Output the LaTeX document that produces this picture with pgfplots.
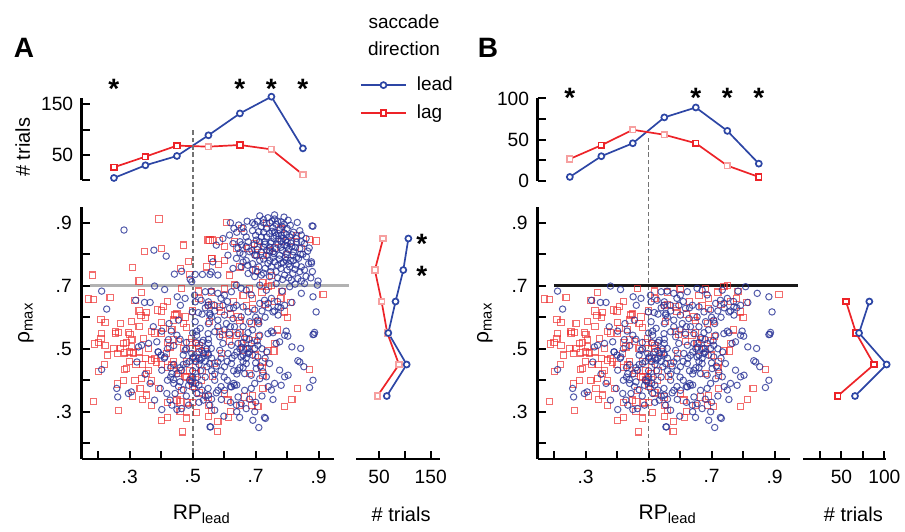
\documentclass[border=0pt]{standalone}
\usepackage{fontspec}
\setmainfont{Liberation Sans}
\usepackage{pgfplots}
\usepackage{pgfplotstable}
\pgfplotsset{compat=1.18}

\definecolor{leadblue}{RGB}{45,70,165}
\definecolor{lagred}{RGB}{237,35,40}
\definecolor{lagpale}{RGB}{246,160,160}
\definecolor{dotblue}{RGB}{40,50,150}
\definecolor{dotred}{RGB}{238,45,45}

% single trials: RP_lead vs rho_max, lead saccades
\pgfplotstableread[row sep=\\]{
x y\\
0.282 0.877\\ 0.377 0.813\\ 0.416 0.794\\ 0.442 0.737\\ 0.465 0.746\\ 0.508 0.736\\
0.531 0.736\\ 0.555 0.736\\ 0.379 0.699\\ 0.411 0.688\\ 0.211 0.683\\ 0.319 0.654\\
0.347 0.647\\ 0.365 0.647\\ 0.451 0.665\\ 0.476 0.660\\ 0.506 0.670\\ 0.508 0.649\\
0.527 0.654\\ 0.540 0.681\\ 0.550 0.649\\ 0.227 0.626\\ 0.461 0.638\\ 0.499 0.617\\
0.518 0.615\\ 0.548 0.638\\ 0.555 0.612\\ 0.375 0.570\\ 0.425 0.580\\ 0.455 0.591\\
0.508 0.586\\ 0.524 0.565\\ 0.550 0.580\\ 0.432 0.556\\ 0.513 0.556\\ 0.402 0.556\\
0.497 0.713\\ 0.492 0.721\\
0.713 0.922\\ 0.739 0.916\\ 0.760 0.912\\ 0.781 0.903\\ 0.803 0.908\\ 0.832 0.901\\
0.879 0.890\\ 0.673 0.905\\ 0.646 0.893\\ 0.631 0.882\\ 0.663 0.871\\ 0.697 0.895\\
0.718 0.887\\ 0.734 0.882\\ 0.755 0.884\\ 0.776 0.877\\ 0.800 0.882\\ 0.744 0.866\\
0.765 0.859\\ 0.787 0.850\\ 0.808 0.855\\ 0.829 0.850\\ 0.845 0.861\\ 0.718 0.855\\
0.728 0.840\\ 0.750 0.840\\ 0.771 0.831\\ 0.792 0.829\\ 0.815 0.824\\ 0.840 0.818\\
0.855 0.834\\ 0.670 0.855\\ 0.676 0.840\\ 0.670 0.824\\ 0.681 0.808\\ 0.697 0.797\\
0.718 0.808\\ 0.734 0.797\\ 0.755 0.808\\ 0.776 0.797\\ 0.797 0.803\\ 0.818 0.797\\
0.836 0.787\\ 0.861 0.792\\ 0.877 0.776\\ 0.797 0.781\\ 0.781 0.771\\ 0.760 0.776\\
0.739 0.771\\ 0.713 0.781\\ 0.808 0.760\\ 0.829 0.766\\ 0.855 0.750\\ 0.818 0.739\\
0.792 0.734\\ 0.813 0.718\\ 0.834 0.723\\ 0.855 0.707\\ 0.896 0.702\\ 0.882 0.665\\
0.892 0.617\\ 0.845 0.676\\ 0.815 0.647\\ 0.792 0.638\\ 0.771 0.633\\ 0.755 0.617\\
0.771 0.607\\ 0.739 0.644\\ 0.728 0.654\\ 0.713 0.644\\ 0.686 0.671\\ 0.670 0.686\\
0.654 0.692\\ 0.639 0.702\\ 0.623 0.681\\ 0.601 0.670\\ 0.580 0.676\\ 0.559 0.683\\
0.570 0.638\\ 0.596 0.638\\ 0.617 0.628\\ 0.639 0.638\\ 0.660 0.633\\ 0.601 0.607\\
0.628 0.596\\ 0.654 0.601\\ 0.676 0.617\\ 0.697 0.623\\ 0.707 0.591\\ 0.681 0.586\\
0.580 0.591\\ 0.554 0.607\\ 0.607 0.580\\ 0.633 0.570\\ 0.750 0.556\\ 0.797 0.556\\
0.887 0.552\\ 0.559 0.744\\ 0.580 0.734\\ 0.564 0.776\\ 0.575 0.829\\ 0.596 0.850\\
0.617 0.861\\ 0.628 0.834\\ 0.644 0.819\\ 0.612 0.797\\ 0.639 0.787\\ 0.628 0.755\\
0.654 0.760\\ 0.676 0.739\\ 0.697 0.729\\ 0.718 0.734\\ 0.744 0.729\\ 0.765 0.707\\
0.713 0.702\\ 0.734 0.686\\ 0.784 0.683\\ 0.808 0.697\\ 0.882 0.889\\ 0.898 0.715\\
0.882 0.545\\ 0.877 0.771\\
0.745 0.900\\ 0.765 0.895\\ 0.785 0.888\\ 0.752 0.873\\ 0.772 0.866\\ 0.790 0.868\\
0.735 0.855\\ 0.758 0.850\\ 0.780 0.842\\ 0.800 0.838\\ 0.745 0.822\\ 0.765 0.818\\
0.785 0.812\\ 0.805 0.815\\ 0.820 0.808\\ 0.775 0.785\\ 0.755 0.790\\ 0.795 0.790\\
0.745 0.810\\ 0.725 0.823\\ 0.705 0.815\\ 0.695 0.830\\ 0.700 0.860\\ 0.690 0.875\\
0.820 0.870\\ 0.840 0.875\\ 0.860 0.850\\ 0.870 0.820\\ 0.850 0.800\\ 0.820 0.780\\
0.840 0.745\\ 0.860 0.730\\ 0.800 0.750\\ 0.780 0.755\\ 0.765 0.745\\ 0.750 0.760\\
0.730 0.755\\ 0.710 0.760\\ 0.690 0.770\\ 0.670 0.780\\ 0.660 0.800\\ 0.650 0.840\\
0.640 0.870\\ 0.620 0.900\\
0.705 0.905\\ 0.725 0.900\\ 0.752 0.905\\ 0.770 0.905\\ 0.790 0.895\\ 0.810 0.892\\
0.725 0.870\\ 0.710 0.872\\ 0.760 0.870\\ 0.782 0.860\\ 0.797 0.862\\ 0.815 0.862\\
0.830 0.838\\ 0.812 0.835\\ 0.795 0.845\\ 0.772 0.848\\ 0.748 0.835\\ 0.730 0.832\\
0.712 0.840\\ 0.702 0.845\\ 0.735 0.812\\ 0.758 0.802\\ 0.780 0.822\\ 0.800 0.826\\
0.826 0.822\\ 0.845 0.840\\ 0.865 0.810\\ 0.842 0.800\\ 0.830 0.790\\ 0.810 0.780\\
0.788 0.775\\ 0.770 0.765\\ 0.745 0.780\\ 0.725 0.785\\ 0.703 0.795\\ 0.688 0.812\\
0.805 0.770\\ 0.825 0.752\\ 0.845 0.760\\ 0.868 0.770\\ 0.880 0.745\\ 0.875 0.725\\
0.845 0.715\\ 0.825 0.705\\ 0.805 0.725\\ 0.785 0.720\\ 0.770 0.725\\ 0.748 0.745\\
0.725 0.740\\ 0.705 0.745\\ 0.690 0.750\\ 0.675 0.765\\ 0.660 0.775\\ 0.650 0.805\\
0.655 0.830\\ 0.660 0.885\\ 0.690 0.900\\ 0.725 0.910\\ 0.760 0.925\\ 0.790 0.918\\
0.211 0.434\\ 0.259 0.374\\ 0.262 0.347\\ 0.296 0.358\\ 0.305 0.363\\ 0.349 0.419\\
0.365 0.390\\ 0.379 0.337\\ 0.397 0.374\\ 0.402 0.307\\ 0.428 0.337\\ 0.434 0.321\\
0.450 0.307\\ 0.465 0.310\\ 0.487 0.321\\ 0.418 0.358\\ 0.444 0.358\\ 0.328 0.506\\
0.323 0.458\\ 0.338 0.511\\ 0.360 0.517\\ 0.391 0.490\\ 0.412 0.474\\ 0.402 0.432\\
0.434 0.421\\ 0.465 0.432\\ 0.481 0.453\\ 0.502 0.474\\ 0.524 0.464\\ 0.545 0.443\\
0.529 0.369\\ 0.550 0.353\\ 0.555 0.252\\ 0.534 0.337\\ 0.513 0.358\\ 0.487 0.384\\
0.460 0.395\\ 0.439 0.402\\ 0.423 0.529\\ 0.450 0.543\\ 0.476 0.495\\ 0.497 0.485\\
0.529 0.495\\ 0.550 0.517\\ 0.534 0.527\\ 0.513 0.543\\ 0.386 0.522\\
0.549 0.548\\ 0.570 0.554\\ 0.586 0.538\\ 0.617 0.546\\ 0.644 0.548\\ 0.676 0.551\\
0.713 0.543\\ 0.739 0.548\\ 0.755 0.551\\ 0.792 0.543\\ 0.802 0.540\\ 0.885 0.546\\
0.765 0.517\\ 0.776 0.522\\ 0.815 0.506\\ 0.843 0.501\\ 0.834 0.462\\ 0.840 0.458\\
0.853 0.443\\ 0.792 0.411\\ 0.803 0.416\\ 0.760 0.390\\ 0.781 0.384\\ 0.755 0.339\\
0.882 0.400\\ 0.871 0.377\\ 0.728 0.282\\ 0.731 0.279\\ 0.710 0.250\\ 0.697 0.300\\
0.691 0.273\\ 0.649 0.282\\ 0.599 0.286\\ 0.557 0.252\\ 0.554 0.321\\ 0.570 0.305\\
0.591 0.339\\ 0.639 0.321\\ 0.654 0.326\\ 0.644 0.347\\ 0.601 0.368\\ 0.623 0.379\\
0.633 0.384\\ 0.665 0.368\\ 0.686 0.374\\ 0.697 0.390\\ 0.713 0.405\\ 0.734 0.411\\
0.570 0.400\\ 0.549 0.374\\ 0.580 0.368\\ 0.554 0.453\\ 0.580 0.458\\ 0.601 0.443\\
0.623 0.453\\ 0.644 0.432\\ 0.665 0.421\\ 0.686 0.416\\ 0.702 0.437\\ 0.723 0.427\\
0.744 0.453\\ 0.707 0.474\\ 0.676 0.485\\ 0.654 0.474\\ 0.633 0.479\\ 0.612 0.485\\
0.586 0.495\\ 0.559 0.501\\ 0.549 0.485\\ 0.686 0.517\\ 0.707 0.511\\ 0.644 0.517\\
0.623 0.511\\ 0.596 0.517\\ 0.670 0.453\\ 0.697 0.501\\ 0.750 0.369\\ 0.776 0.432\\
0.490 0.400\\ 0.500 0.410\\ 0.510 0.390\\ 0.500 0.430\\ 0.520 0.450\\ 0.530 0.470\\
0.540 0.460\\ 0.550 0.480\\ 0.560 0.470\\ 0.520 0.490\\ 0.500 0.470\\ 0.490 0.460\\
0.510 0.520\\ 0.530 0.520\\ 0.550 0.530\\ 0.660 0.480\\ 0.670 0.500\\ 0.660 0.520\\
0.650 0.500\\ 0.680 0.490\\ 0.670 0.470\\ 0.660 0.460\\ 0.650 0.440\\ 0.640 0.420\\
0.630 0.390\\ 0.620 0.380\\ 0.640 0.385\\ 0.600 0.410\\ 0.590 0.430\\ 0.570 0.420\\
0.450 0.420\\ 0.460 0.440\\ 0.430 0.410\\ 0.420 0.400\\ 0.440 0.450\\ 0.410 0.470\\
0.400 0.480\\ 0.390 0.490\\ 0.420 0.500\\ 0.470 0.480\\ 0.480 0.500\\ 0.700 0.600\\
0.720 0.620\\ 0.740 0.630\\ 0.760 0.620\\ 0.780 0.630\\ 0.770 0.650\\ 0.750 0.660\\
0.730 0.600\\ 0.710 0.580\\ 0.690 0.560\\ 0.660 0.570\\ 0.620 0.570\\ 0.600 0.560\\
0.580 0.570\\ 0.630 0.630\\ 0.610 0.650\\ 0.590 0.660\\ 0.570 0.620\\ 0.560 0.600\\
0.540 0.630\\ 0.530 0.610\\
0.510 0.460\\ 0.520 0.470\\ 0.535 0.485\\ 0.545 0.500\\ 0.525 0.430\\ 0.515 0.410\\
0.495 0.395\\ 0.505 0.375\\ 0.520 0.385\\ 0.540 0.410\\ 0.560 0.430\\ 0.575 0.445\\
0.590 0.470\\ 0.610 0.460\\ 0.625 0.470\\ 0.640 0.490\\ 0.655 0.505\\ 0.665 0.535\\
0.675 0.500\\ 0.690 0.480\\ 0.700 0.455\\ 0.715 0.445\\ 0.730 0.470\\ 0.735 0.490\\
0.720 0.500\\ 0.705 0.525\\ 0.680 0.530\\ 0.660 0.440\\ 0.630 0.430\\ 0.610 0.400\\
0.590 0.380\\ 0.575 0.360\\ 0.560 0.340\\ 0.540 0.350\\ 0.520 0.330\\ 0.480 0.350\\
0.470 0.370\\ 0.455 0.380\\ 0.440 0.390\\ 0.430 0.440\\ 0.470 0.450\\ 0.480 0.520\\
0.460 0.530\\ 0.440 0.510\\ 0.500 0.550\\ 0.620 0.330\\ 0.640 0.300\\ 0.670 0.310\\
0.680 0.340\\ 0.700 0.330\\ 0.720 0.350\\ 0.740 0.380\\
}\leadpts

% single trials, lag saccades
\pgfplotstableread[row sep=\\]{
x y\\
0.393 0.912\\ 0.471 0.829\\ 0.346 0.808\\ 0.400 0.818\\ 0.309 0.759\\ 0.182 0.734\\
0.330 0.715\\ 0.487 0.778\\ 0.461 0.755\\ 0.489 0.736\\ 0.555 0.845\\ 0.559 0.787\\
0.338 0.679\\ 0.238 0.662\\ 0.169 0.658\\ 0.185 0.657\\ 0.317 0.654\\ 0.421 0.649\\
0.408 0.635\\ 0.389 0.623\\ 0.354 0.615\\ 0.330 0.620\\ 0.336 0.605\\ 0.209 0.594\\
0.222 0.584\\ 0.305 0.586\\ 0.402 0.584\\ 0.439 0.591\\ 0.444 0.607\\ 0.476 0.601\\
0.481 0.567\\ 0.407 0.565\\ 0.434 0.562\\ 0.254 0.554\\ 0.264 0.552\\ 0.211 0.549\\
0.296 0.552\\ 0.370 0.554\\ 0.465 0.691\\ 0.518 0.683\\
0.607 0.901\\ 0.656 0.882\\ 0.734 0.898\\ 0.549 0.845\\ 0.564 0.845\\ 0.586 0.842\\
0.601 0.824\\ 0.633 0.840\\ 0.676 0.818\\ 0.707 0.824\\ 0.723 0.797\\ 0.744 0.813\\
0.697 0.834\\ 0.781 0.840\\ 0.813 0.840\\ 0.845 0.818\\ 0.871 0.848\\ 0.892 0.842\\
0.561 0.787\\ 0.582 0.768\\ 0.543 0.760\\ 0.617 0.734\\ 0.750 0.732\\ 0.723 0.711\\
0.739 0.697\\ 0.633 0.702\\ 0.784 0.681\\ 0.914 0.672\\ 0.811 0.647\\ 0.551 0.638\\
0.586 0.633\\ 0.644 0.601\\ 0.691 0.628\\ 0.792 0.617\\ 0.686 0.580\\ 0.707 0.586\\
0.554 0.586\\ 0.586 0.554\\ 0.670 0.638\\
0.188 0.515\\ 0.209 0.533\\ 0.222 0.511\\ 0.254 0.548\\ 0.301 0.546\\ 0.307 0.529\\
0.344 0.533\\ 0.280 0.517\\ 0.262 0.485\\ 0.283 0.487\\ 0.312 0.487\\ 0.201 0.427\\
0.283 0.434\\ 0.291 0.437\\ 0.262 0.388\\ 0.317 0.400\\ 0.338 0.406\\ 0.333 0.374\\
0.370 0.398\\ 0.391 0.374\\ 0.354 0.353\\ 0.264 0.305\\ 0.185 0.332\\ 0.402 0.273\\
0.421 0.282\\ 0.468 0.236\\ 0.460 0.331\\ 0.484 0.328\\ 0.513 0.297\\ 0.550 0.286\\
0.402 0.548\\ 0.428 0.506\\ 0.370 0.464\\ 0.386 0.458\\ 0.418 0.485\\ 0.434 0.448\\
0.455 0.421\\ 0.476 0.411\\ 0.492 0.402\\ 0.508 0.421\\ 0.529 0.400\\ 0.513 0.517\\
0.518 0.501\\ 0.497 0.533\\ 0.455 0.522\\ 0.465 0.368\\ 0.450 0.337\\ 0.354 0.421\\
0.305 0.506\\
0.617 0.522\\ 0.654 0.517\\ 0.660 0.496\\ 0.697 0.527\\ 0.739 0.493\\ 0.758 0.493\\
0.760 0.517\\ 0.723 0.458\\ 0.723 0.416\\ 0.723 0.374\\ 0.665 0.347\\ 0.688 0.321\\
0.707 0.316\\ 0.792 0.316\\ 0.815 0.339\\ 0.832 0.374\\ 0.871 0.434\\ 0.614 0.282\\
0.578 0.238\\ 0.601 0.358\\ 0.612 0.337\\ 0.559 0.305\\ 0.570 0.453\\ 0.591 0.485\\
0.617 0.551\\ 0.596 0.546\\ 0.638 0.543\\ 0.681 0.421\\ 0.564 0.411\\ 0.549 0.347\\
0.500 0.500\\ 0.510 0.470\\ 0.520 0.510\\ 0.490 0.430\\ 0.500 0.390\\ 0.500 0.380\\
0.480 0.410\\ 0.460 0.430\\ 0.440 0.460\\ 0.420 0.520\\ 0.380 0.550\\ 0.360 0.500\\
0.350 0.470\\ 0.320 0.450\\ 0.300 0.490\\ 0.290 0.520\\ 0.270 0.500\\ 0.250 0.500\\
0.230 0.480\\ 0.220 0.450\\ 0.200 0.520\\ 0.270 0.580\\ 0.330 0.570\\ 0.350 0.600\\
0.400 0.620\\ 0.450 0.610\\ 0.470 0.580\\ 0.500 0.620\\ 0.520 0.660\\ 0.560 0.640\\
0.590 0.620\\ 0.630 0.650\\ 0.660 0.670\\ 0.690 0.660\\ 0.720 0.680\\ 0.750 0.700\\
0.780 0.660\\ 0.800 0.600\\ 0.770 0.560\\ 0.710 0.540\\ 0.680 0.500\\ 0.670 0.530\\
0.650 0.550\\
0.480 0.460\\ 0.470 0.500\\ 0.490 0.520\\ 0.510 0.440\\ 0.530 0.430\\ 0.540 0.490\\
0.440 0.530\\ 0.420 0.440\\ 0.400 0.450\\ 0.380 0.470\\ 0.360 0.430\\ 0.340 0.450\\
0.330 0.490\\ 0.300 0.460\\ 0.280 0.400\\ 0.310 0.350\\ 0.340 0.340\\ 0.370 0.320\\
0.420 0.330\\ 0.460 0.300\\ 0.480 0.280\\ 0.500 0.330\\ 0.520 0.360\\ 0.550 0.320\\
0.580 0.270\\ 0.620 0.300\\ 0.650 0.320\\ 0.690 0.350\\ 0.720 0.440\\ 0.700 0.480\\
0.650 0.590\\ 0.620 0.610\\ 0.560 0.680\\ 0.600 0.690\\ 0.680 0.690\\ 0.730 0.640\\
0.760 0.650\\ 0.700 0.750\\ 0.650 0.760\\ 0.600 0.780\\ 0.640 0.820\\ 0.700 0.800\\
0.760 0.820\\ 0.800 0.800\\ 0.830 0.860\\ 0.780 0.880\\
}\lagpts

\tikzset{star/.style={font=\fontsize{14}{14}\selectfont\bfseries, inner sep=0pt, yshift=-2.7pt}}

\pgfplotsset{
  base/.style={scale only axis, clip=false,
    axis line style={-, line width=1.3pt},
    tick style={black, line width=1pt},
    major tick length=4.2pt, tick align=inside,
    /pgf/number format/assume math mode=true,
    tick label style={font=\fontsize{9.6}{11}\selectfont},
    label style={font=\fontsize{10.5}{12}\selectfont},
  },
  leadline/.style={leadblue, line width=0.85pt, mark=*, mark size=1.5pt,
    mark options={fill=white, solid}},
  lagline/.style={lagred, line width=0.85pt, mark=square*, mark size=1.4pt,
    mark options={fill=white, solid}},
  palemarks/.style={only marks, lagpale, mark=square*, mark size=1.4pt,
    line width=0.85pt, mark options={fill=white}},
  leaddots/.style={only marks, dotblue, mark=o, mark size=1.6pt, line width=0.5pt, opacity=0.8},
  lagdots/.style={only marks, dotred, mark=square, mark size=1.55pt, line width=0.55pt, opacity=0.7},
  scatterax/.style={base, width=126pt, height=126pt,
    xmin=0.148, xmax=0.948, ymin=0.15, ymax=0.95,
    axis x line*=bottom, axis y line*=left,
    xtick={0.2,0.3,0.4,0.5,0.6,0.7,0.8,0.9}, xticklabels={,.3,,.5,,.7,,.9},
    ytick={0.2,0.3,0.4,0.5,0.6,0.7,0.8,0.9}, yticklabels={,.3,,.5,,.7,,.9},
    xticklabel style={yshift=-1.8pt}, yticklabel style={xshift=-1.5pt},
    xlabel={RP\textsubscript{lead}}, ylabel={ρ\textsubscript{max}},
  },
  topax/.style={base, width=126pt, height=41.3pt,
    xmin=0.148, xmax=0.948, axis x line=none, axis y line*=left,
    yticklabel style={xshift=-0.8pt},
  },
  sideax/.style={base, height=126pt, ymin=0.15, ymax=0.95,
    axis y line=none, axis x line*=bottom,
    xticklabel style={yshift=-1.8pt},
    xlabel={\# trials}, xlabel style={font=\fontsize{10}{12}\selectfont},
  },
}

\begin{document}
\begin{tikzpicture}
\path[use as bounding box] (0,0) rectangle (452.5pt,265.5pt);

% ---------------- panel A ----------------
\begin{axis}[topax, at={(40.9pt,175.35pt)}, anchor=south west,
  ymin=0, ymax=163, ytick={0,50,100,150}, yticklabels={,50,,150},
  ylabel={\# trials},
  ylabel style={at={(axis description cs:-0.234,0.40)}, anchor=center, font=\fontsize{10}{12}\selectfont},
  legend style={at={(axis description cs:1.103,0.984)}, anchor=west, draw=none, fill=none,
    inner sep=0pt, font=\fontsize{9.5}{11}\selectfont, row sep=1.5pt,
    cells={anchor=west}, /tikz/every odd column/.append style={column sep=3pt}},
  legend image code/.code={\draw[mark repeat=2,mark phase=2,#1]
    plot coordinates {(0pt,0pt) (11.25pt,0pt) (22.5pt,0pt)};},
]
\addplot[leadline] coordinates {(0.25,4.6) (0.35,29.6) (0.45,48) (0.55,88.8) (0.65,132) (0.75,165) (0.85,63)};
\addlegendentry{lead}
\addplot[lagline] coordinates {(0.25,25.7) (0.35,46.7) (0.45,68.4) (0.55,66.4) (0.65,69.7) (0.75,61) (0.85,11.2)};
\addlegendentry{lag}
\addplot[palemarks, forget plot] coordinates {(0.55,66.4) (0.75,61) (0.85,11.2)};
\node[star] at (axis cs:0.25,192) {*};
\node[star] at (axis cs:0.65,192) {*};
\node[star] at (axis cs:0.75,192) {*};
\node[star] at (axis cs:0.85,192) {*};
\end{axis}

\begin{axis}[scatterax, at={(40.9pt,36pt)}, anchor=south west,
  xlabel style={at={(axis description cs:0.476,-0.242)}, anchor=base},
  ylabel style={at={(axis description cs:-0.222,0.54)}, anchor=center},
]
\draw[black!55, dash pattern=on 2.3pt off 1.4pt, line width=0.9pt] (axis cs:0.5,0.169) -- (axis cs:0.5,1.194);
\draw[gray!60, line width=1.5pt] (axis cs:0.173,0.7) -- (axis cs:0.995,0.7);
\addplot[lagdots] table {\lagpts};
\addplot[leaddots] table {\leadpts};
\end{axis}

\begin{axis}[sideax, at={(178pt,36pt)}, anchor=south west, width=42pt,
  xmin=5.5, xmax=168, xtick={50,100,150}, xticklabels={50,,150},
  xlabel style={at={(axis description cs:0.537,-0.249)}, anchor=base},
]
\addplot[lagline, mark options={draw=lagpale, fill=white}] coordinates {(58,0.85) (42,0.75) (55,0.65) (66,0.55) (88.7,0.45) (47,0.35)};
\addplot[leadline] coordinates {(106.8,0.85) (97,0.75) (82,0.65) (68,0.55) (103.5,0.45) (65,0.35)};
\node[star] at (axis cs:132.6,0.85) {*};
\node[star] at (axis cs:132.6,0.75) {*};
\end{axis}

% ---------------- panel B ----------------
\begin{axis}[topax, at={(268.85pt,175pt)}, anchor=south west,
  ymin=0, ymax=100, ytick={0,25,50,75,100}, yticklabels={0,,50,,100},
]
\addplot[leadline] coordinates {(0.25,4.9) (0.35,30) (0.45,45.7) (0.55,77) (0.65,89) (0.75,60.7) (0.85,21)};
\addplot[lagline] coordinates {(0.25,26.7) (0.35,43.3) (0.45,62) (0.55,56) (0.65,45.7) (0.75,18.6) (0.85,4.9)};
\addplot[palemarks] coordinates {(0.25,26.7) (0.45,62) (0.55,56) (0.75,18.6)};
\node[star] at (axis cs:0.25,107) {*};
\node[star] at (axis cs:0.65,107) {*};
\node[star] at (axis cs:0.75,107) {*};
\node[star] at (axis cs:0.85,107) {*};
\end{axis}

\begin{axis}[scatterax, at={(268.85pt,36pt)}, anchor=south west,
  xlabel style={at={(axis description cs:0.516,-0.242)}, anchor=base},
  ylabel style={at={(axis description cs:-0.21,0.54)}, anchor=center},
]
\draw[black!55, dash pattern=on 2.3pt off 1.4pt, line width=0.9pt] (axis cs:0.5,0.169) -- (axis cs:0.5,1.172);
\addplot[lagdots, restrict y to domain=0:0.7] table {\lagpts};
\addplot[leaddots, restrict y to domain=0:0.7] table {\leadpts};
\draw[black!90, line width=1.4pt] (axis cs:0.199,0.7) -- (axis cs:0.975,0.7);
\end{axis}

\begin{axis}[sideax, at={(401.65pt,36pt)}, anchor=south west, width=41.2pt,
  xmin=5.5, xmax=101.6, xtick={25,50,75,100}, xticklabels={,50,,100},
  xlabel style={at={(axis description cs:0.607,-0.249)}, anchor=base},
]
\addplot[lagline] coordinates {(55.3,0.65) (67,0.55) (88,0.45) (45.6,0.35)};
\addplot[leadline] coordinates {(82.5,0.65) (70.5,0.55) (102.7,0.45) (65.8,0.35)};
\end{axis}

% panel letters and legend title
\node[font=\fontsize{14}{14}\bfseries\selectfont] at (12pt,241.5pt) {A};
\node[font=\fontsize{14}{14}\bfseries\selectfont] at (244pt,241.5pt) {B};
\node[align=center, font=\fontsize{9.5}{13.3}\selectfont] at (202pt,248pt) {saccade\\direction};
\end{tikzpicture}
\end{document}
